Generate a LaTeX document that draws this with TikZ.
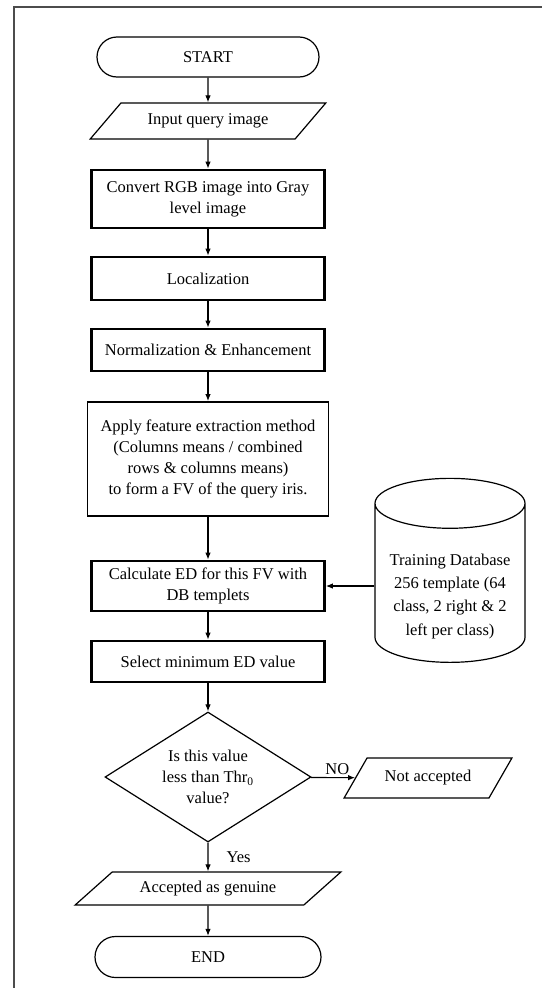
\documentclass[tikz,border=0pt]{standalone}
\usepackage{fontspec}
\setmainfont{Liberation Serif}
\usetikzlibrary{arrows.meta, positioning, shapes.geometric, shapes.misc}

\begin{document}
\begin{tikzpicture}[x=1pt, y=-1pt, >={Latex[length=7pt, width=5.5pt]},
  every node/.style={font=\fontsize{16.5}{20.7}\selectfont, align=center, inner sep=2pt},
  terminal/.style={draw, rounded rectangle, line width=1.2pt, minimum height=40pt},
  iobox/.style={draw, trapezium, trapezium stretches=true, line width=1.2pt},
  procbox/.style={draw, rectangle, line width=2.7pt, minimum width=233pt},
  flow/.style={->, line width=1.1pt}]
  \useasboundingbox (0,0) rectangle (542,988);
  \draw[black!70, line width=1.6pt] (14,988) -- (14,7) -- (542,7);

  \node[terminal, minimum width=226pt] (start) at (208,57) {START};
  \node[iobox, minimum width=236pt, minimum height=36pt, trapezium left angle=40, trapezium right angle=140]
    (input) at (208,121) {Input query image};
  \node[procbox, minimum height=58pt] (gray) at (208,199) {Convert RGB image into Gray\\level image};
  \node[procbox, minimum height=43pt] (loc) at (208,278.5) {Localization};
  \node[procbox, minimum height=42pt] (norm) at (208,350) {Normalization \& Enhancement};
  \node[draw, line width=1.8pt, minimum width=241pt, minimum height=114pt] (feat) at (208,459) {
    Apply feature extraction method\\
    (Columns means / combined\\
    rows \& columns means)\\
    to form a FV of the query iris.
  };
  \node[procbox, minimum height=50pt] (calc) at (208,586) {Calculate ED for this FV with\\DB templets};
  \node[procbox, minimum height=41pt] (sel) at (208,661.5) {Select minimum ED value};
  \node[draw, diamond, aspect=1.57, line width=1.2pt, minimum width=206pt, minimum height=130pt, inner sep=0pt]
    (dec) at (208,777) {Is this value\\less than Thr\textsubscript{0}\\value?};
  \node[iobox, minimum width=168pt, minimum height=40pt, trapezium left angle=48, trapezium right angle=132]
    (rej) at (428,778) {Not accepted};
  \node[iobox, minimum width=266pt, minimum height=33pt, trapezium left angle=35, trapezium right angle=145]
    (acc) at (208,888.5) {Accepted as genuine};
  \node[terminal, minimum width=230pt, minimum height=41pt] (stop) at (208,957) {END};

  \node[draw, cylinder, shape border rotate=90, aspect=0.4, line width=1.2pt, minimum width=150pt,
    minimum height=184pt, font=\fontsize{16.5}{23.2}\selectfont] (db) at (450,586) {%
    \raisebox{-14pt}[0pt][0pt]{\begin{tabular}{@{}c@{}}
    Training Database\\
    256 template (64\\
    class, 2 right \& 2\\
    left per class)
    \end{tabular}}%
  };

  \draw[flow] (start) -- (input);
  \draw[flow] (input) -- (gray);
  \draw[flow] (gray) -- (loc);
  \draw[flow] (loc) -- (norm);
  \draw[flow] (norm) -- (feat);
  \draw[flow] (feat) -- (calc);
  \draw[flow] (db) -- (calc);
  \draw[flow] (calc) -- (sel);
  \draw[flow] (sel) -- (dec);
  \draw[flow] (dec) -- node[above, pos=0.6] {NO} (rej);
  \draw[flow] (dec) -- node[right=16pt] {Yes} (acc);
  \draw[flow] (acc) -- (stop);
\end{tikzpicture}
\end{document}
